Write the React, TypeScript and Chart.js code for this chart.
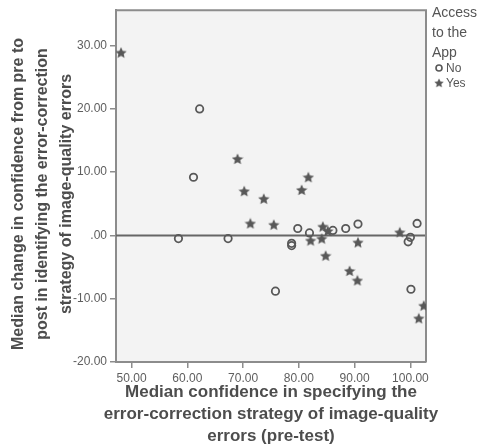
import React, { useEffect, useRef } from "react";
import { Chart, registerables } from "chart.js";

Chart.register(...registerables);

// Pre-test confidence (x) vs. change in confidence (y), split by app access
const noX = [62.2, 61.1, 58.4, 67.3, 75.8, 78.7, 78.7, 79.8, 81.9, 86.1, 88.4, 90.6, 101.2, 99.6, 100.0, 100.1];
const noY = [20.0, 9.2, -0.5, -0.5, -8.8, -1.25, -1.6, 1.1, 0.4, 0.8, 1.1, 1.8, 1.9, -1.0, -0.3, -8.5];

const yesX = [48.1, 69.0, 70.2, 71.3, 73.7, 75.5, 80.5, 81.7, 82.1, 84.1, 84.3, 84.8, 85.2, 90.6, 89.1, 90.5, 98.1, 102.4, 101.5];
const yesY = [28.9, 12.1, 7.0, 1.9, 5.8, 1.7, 7.2, 9.2, -0.8, -0.5, 1.4, -3.2, 0.7, -1.1, -5.6, -7.1, 0.5, -11.1, -13.1];

const xTicks = [50, 60, 70, 80, 90, 100];
const xTickLabels = ["50.00", "60.00", "70.00", "80.00", "90.00", "100.00"];
const yTicks = [-20, -10, 0, 10, 20, 30];
const yTickLabels = ["-20.00", "-10.00", ".00", "10.00", "20.00", "30.00"];

const xTitle = ["Median confidence in specifying the", "error-correction strategy of image-quality", "errors (pre-test)"];
const yTitle = ["Median change in confidence from pre to", "post in identifying the error-correction", "strategy of image-quality errors"];
const legendTitle = ["Access", "to the", "App"];
const legendLabels = ["No", "Yes"];

const FONT = "'Liberation Sans', Arial, sans-serif";
const MARK = "#585858";
const AXIS = "#8c8c8c";

function makeStar(size: number, color: string): HTMLCanvasElement {
  const c = document.createElement("canvas");
  c.width = size;
  c.height = size;
  const ctx = c.getContext("2d")!;
  const cx = size / 2, cy = size / 2 + 0.5;
  const outer = size / 2, inner = outer * 0.47;
  ctx.beginPath();
  for (let i = 0; i < 10; i++) {
    const r = i % 2 === 0 ? outer : inner;
    const a = -Math.PI / 2 + (i * Math.PI) / 5;
    const px = cx + r * Math.cos(a), py = cy + r * Math.sin(a);
    if (i === 0) ctx.moveTo(px, py); else ctx.lineTo(px, py);
  }
  ctx.closePath();
  ctx.fillStyle = color;
  ctx.fill();
  return c;
}

export default function App() {
  const ref = useRef<HTMLCanvasElement>(null);

  useEffect(() => {
    const star = makeStar(12, MARK);

    const decor = {
      id: "decor",
      beforeDraw(chart: any) {
        const { ctx, chartArea: a } = chart;
        ctx.save();
        ctx.fillStyle = "#f3f3f3";
        ctx.fillRect(a.left, a.top, a.right - a.left, a.bottom - a.top);
        ctx.restore();
      },
      beforeDatasetsDraw(chart: any) {
        const { ctx, chartArea: a, scales } = chart;
        const y0 = scales.y.getPixelForValue(0);
        ctx.save();
        // reference line at zero
        ctx.strokeStyle = "#666";
        ctx.lineWidth = 2;
        ctx.beginPath();
        ctx.moveTo(a.left, y0);
        ctx.lineTo(a.right, y0);
        ctx.stroke();
        // top and right frame
        ctx.strokeStyle = AXIS;
        ctx.lineWidth = 2;
        ctx.beginPath();
        ctx.moveTo(a.left, a.top);
        ctx.lineTo(a.right, a.top);
        ctx.lineTo(a.right, a.bottom);
        ctx.stroke();
        ctx.restore();
      },
      afterDraw(chart: any) {
        const { ctx, chartArea: a } = chart;
        ctx.save();
        ctx.fillStyle = "#4d4d4d";
        ctx.textAlign = "center";
        ctx.textBaseline = "middle";
        ctx.font = `bold 17px ${FONT}`;
        const cx = (a.left + a.right) / 2;
        xTitle.forEach((t, i) => ctx.fillText(t, cx, 392 + i * 22));
        ctx.save();
        ctx.font = `bold 16px ${FONT}`;
        ctx.translate(0, 194);
        ctx.rotate(-Math.PI / 2);
        yTitle.forEach((t, i) => ctx.fillText(t, 0, 19 + i * 24));
        ctx.restore();

        // legend
        ctx.fillStyle = "#555";
        ctx.textAlign = "left";
        ctx.font = `14px ${FONT}`;
        legendTitle.forEach((t, i) => ctx.fillText(t, a.right + 6, 13 + i * 20));
        ctx.font = `12px ${FONT}`;
        const lx = a.right + 13;
        ctx.strokeStyle = MARK;
        ctx.lineWidth = 1.6;
        ctx.beginPath();
        ctx.arc(lx, 68, 3, 0, Math.PI * 2);
        ctx.stroke();
        ctx.drawImage(star, lx - 5, 83 - 5, 10, 10);
        ctx.fillText(legendLabels[0], lx + 7, 69);
        ctx.fillText(legendLabels[1], lx + 7, 84);
        ctx.restore();
      },
    };

    const chart = new Chart(ref.current!, {
      type: "scatter",
      data: {
        datasets: [
          {
            label: legendLabels[0],
            data: noX.map((x, i) => ({ x, y: noY[i] })),
            pointStyle: "circle",
            pointRadius: 3.7,
            borderWidth: 1.8,
            borderColor: MARK,
            backgroundColor: "rgba(0,0,0,0)",
          },
          {
            label: legendLabels[1],
            data: yesX.map((x, i) => ({ x, y: yesY[i] })),
            pointStyle: star as any,
            pointRadius: 6,
            borderColor: MARK,
            backgroundColor: MARK,
          },
        ],
      },
      options: {
        responsive: false,
        animation: false,
        layout: { padding: { top: 5, right: 55, left: 0, bottom: 0 } },
        plugins: { legend: { display: false }, tooltip: { enabled: false } },
        scales: {
          x: {
            type: "linear",
            min: 47.2,
            max: 102.8,
            afterBuildTicks: (s: any) => { s.ticks = xTicks.map((v) => ({ value: v })); },
            afterFit: (s: any) => { s.height = 84; },
            ticks: {
              callback: (_v: any, i: number) => xTickLabels[i],
              color: "#5e5e5e",
              font: { family: FONT, size: 12 },
              padding: 3,
              maxRotation: 0,
              autoSkip: false,
            },
            grid: { drawOnChartArea: false, drawTicks: true, tickLength: 6, color: AXIS, lineWidth: 1.5 },
            border: { display: true, color: AXIS, width: 2 },
          },
          y: {
            type: "linear",
            min: -20,
            max: 35.6,
            afterBuildTicks: (s: any) => { s.ticks = yTicks.map((v) => ({ value: v })); },
            afterFit: (s: any) => { s.width = 116; },
            ticks: {
              callback: (_v: any, i: number) => yTickLabels[i],
              color: "#5e5e5e",
              font: { family: FONT, size: 12 },
              padding: 3,
              autoSkip: false,
            },
            grid: { drawOnChartArea: false, drawTicks: true, tickLength: 6, color: AXIS, lineWidth: 1.5 },
            border: { display: true, color: AXIS, width: 2 },
          },
        },
      },
      plugins: [decor],
    });
    return () => chart.destroy();
  }, []);

  return (
    <div style={{ position: "absolute", left: 0, top: 0, width: 481, height: 446, background: "#fff" }}>
      <canvas ref={ref} width={481} height={446} />
    </div>
  );
}
